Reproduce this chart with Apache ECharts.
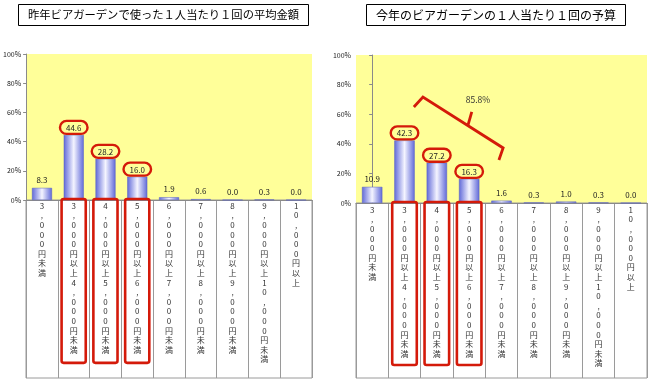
<!DOCTYPE html>
<html><head><meta charset="utf-8">
<script src="https://cdn.jsdelivr.net/npm/echarts@6/dist/echarts.min.js"></script>
<style>html,body{margin:0;padding:0;background:#fff}#c{width:650px;height:381px}</style>
</head><body><div id="c"></div>
<script>
const categories = ['3,000円未満', '3,000円以上4,000円未満', '4,000円以上5,000円未満', '5,000円以上6,000円未満', '6,000円以上7,000円未満', '7,000円以上8,000円未満', '8,000円以上9,000円未満', '9,000円以上10,000円未満', '10,000円以上'];
const lastYearValues = [8.3, 44.6, 28.2, 16.0, 1.9, 0.6, 0.0, 0.3, 0.0];
const budgetValues = [10.9, 42.3, 27.2, 16.3, 1.6, 0.3, 1.0, 0.3, 0.0];
const highlighted = [1, 2, 3];
const titleLeft = '昨年ビアガーデンで使った１人当たり１回の平均金額';
const titleRight = '今年のビアガーデンの１人当たり１回の予算';
const bracketLabel = '85.8%';
const bracketPoints = [[1.29, 64.9], [1.57, 71.6], [4.05, 37.2], [3.92, 29.1]];
const bracketTick = [[2.96, 52.3], [3.08, 61.5]];
const bracketLabelPos = [3.27, 69.6];

const FONT = '"Noto Sans CJK JP", "Noto Sans", sans-serif';
const RED = '#d41a0a';
const chart = echarts.init(document.getElementById('c'), null, {renderer: 'canvas'});

const barColor = new echarts.graphic.LinearGradient(0, 0, 1, 0, [
  {offset: 0, color: '#5f68d8'},
  {offset: 0.5, color: '#f4f4ff'},
  {offset: 1, color: '#5f68d8'}
]);

function barData(values) {
  return values.map((v, i) => {
    const item = {value: v};
    if (highlighted.includes(i)) {
      item.label = {borderColor: RED, borderWidth: 2.4, borderRadius: 9, padding: [3, 6, 2, 6], distance: 1};
    }
    return item;
  });
}

function gridPair(left, top, width, height, tableBottom) {
  return [
    {left: left, top: top, width: width, height: height, show: true, backgroundColor: '#ffff99', borderWidth: 0},
    {left: left, top: top + height, width: width, height: tableBottom - top - height, show: true, backgroundColor: '#fff', borderColor: '#9a9a9a', borderWidth: 1}
  ];
}

function catAxis(gridIndex, withLabels, margin) {
  return {
    type: 'category', gridIndex: gridIndex, data: categories,
    axisLine: {show: withLabels, lineStyle: {color: '#8a8a8a', width: 1}},
    axisTick: {show: false},
    splitLine: {show: !withLabels, interval: 0, lineStyle: {color: '#9a9a9a', width: 1}},
    axisLabel: {
      show: withLabels, interval: 0, margin: margin, fontSize: 8, lineHeight: 9.6, color: '#333', fontFamily: FONT,
      formatter: v => v.split('').join('\n')
    }
  };
}

function valAxis(gridIndex, withLabels) {
  return {
    type: 'value', gridIndex: gridIndex, min: 0, max: 100, interval: 20,
    axisLine: {show: withLabels, lineStyle: {color: '#8a8a8a'}},
    axisTick: {show: withLabels, length: 3, lineStyle: {color: '#8a8a8a'}},
    splitLine: {show: false},
    axisLabel: {show: withLabels, fontSize: 7, color: '#222', margin: 5, fontFamily: FONT, formatter: '{value}%'}
  };
}

function barSeries(xi, yi, values) {
  return {
    type: 'bar', xAxisIndex: xi, yAxisIndex: yi, data: barData(values), barWidth: '63%',
    itemStyle: {color: barColor, borderColor: '#5860c4', borderWidth: 0.5},
    label: {show: true, position: 'top', distance: 4, fontSize: 8, color: '#222', fontFamily: FONT,
      formatter: p => Number(p.value).toFixed(1)},
    z: 3
  };
}

function rectSeries(xi, yi, bottomVal) {
  return {
    type: 'custom', xAxisIndex: xi, yAxisIndex: yi, z: 5, silent: true,
    data: highlighted.map(i => [i, 100]),
    renderItem: (params, api) => {
      const idx = api.value(0);
      const top = api.coord([idx, 100]);
      const bot = api.coord([idx, bottomVal]);
      const bw = api.size([1, 0])[0];
      return {type: 'rect', shape: {x: top[0] - bw * 0.38, y: top[1] - 1, width: bw * 0.76, height: bot[1] - top[1] + 1, r: 2},
        style: {fill: 'none', stroke: RED, lineWidth: 2.6}};
    }
  };
}

const option = {
  backgroundColor: '#fff',
  animation: false,
  textStyle: {fontFamily: FONT},
  title: [
    {text: titleLeft, left: 18, top: 4, padding: [5, 10, 5, 10], borderColor: '#000', borderWidth: 1, backgroundColor: '#fff',
      textStyle: {fontSize: 11.3, fontWeight: 'normal', color: '#000', fontFamily: FONT}},
    {text: titleRight, left: 366, top: 4, padding: [5, 10, 5, 10], borderColor: '#000', borderWidth: 1, backgroundColor: '#fff',
      textStyle: {fontSize: 12, fontWeight: 'normal', color: '#000', fontFamily: FONT}}
  ],
  grid: [].concat(gridPair(26, 54, 286, 146, 378), gridPair(356, 55, 291, 148, 378)),
  xAxis: [
    catAxis(0, true, 1), catAxis(1, false, 0), catAxis(2, true, 2), catAxis(3, false, 0),
    {type: 'value', gridIndex: 2, min: -0.5, max: 8.5, show: false}
  ],
  yAxis: [valAxis(0, true), valAxis(1, false), valAxis(2, true), valAxis(3, false)],
  series: [
    barSeries(0, 0, lastYearValues),
    barSeries(2, 2, budgetValues),
    rectSeries(1, 1, 8.5),
    rectSeries(3, 3, 7.4),
    {
      type: 'custom', xAxisIndex: 4, yAxisIndex: 2, z: 6, silent: true, data: [[0, 0]],
      renderItem: (params, api) => {
        const pts = bracketPoints.map(p => api.coord(p));
        const t0 = api.coord(bracketTick[0]), t1 = api.coord(bracketTick[1]);
        const lp = api.coord(bracketLabelPos);
        return {type: 'group', children: [
          {type: 'polyline', shape: {points: pts}, style: {fill: 'none', stroke: RED, lineWidth: 2.8, lineJoin: 'miter'}},
          {type: 'line', shape: {x1: t0[0], y1: t0[1], x2: t1[0], y2: t1[1]}, style: {stroke: RED, lineWidth: 2.8}},
          {type: 'text', x: lp[0], y: lp[1], style: {text: bracketLabel, fontSize: 8.5, fill: '#333', fontFamily: FONT, align: 'center', verticalAlign: 'middle'}}
        ]};
      }
    }
  ]
};
chart.setOption(option);
</script></body></html>
